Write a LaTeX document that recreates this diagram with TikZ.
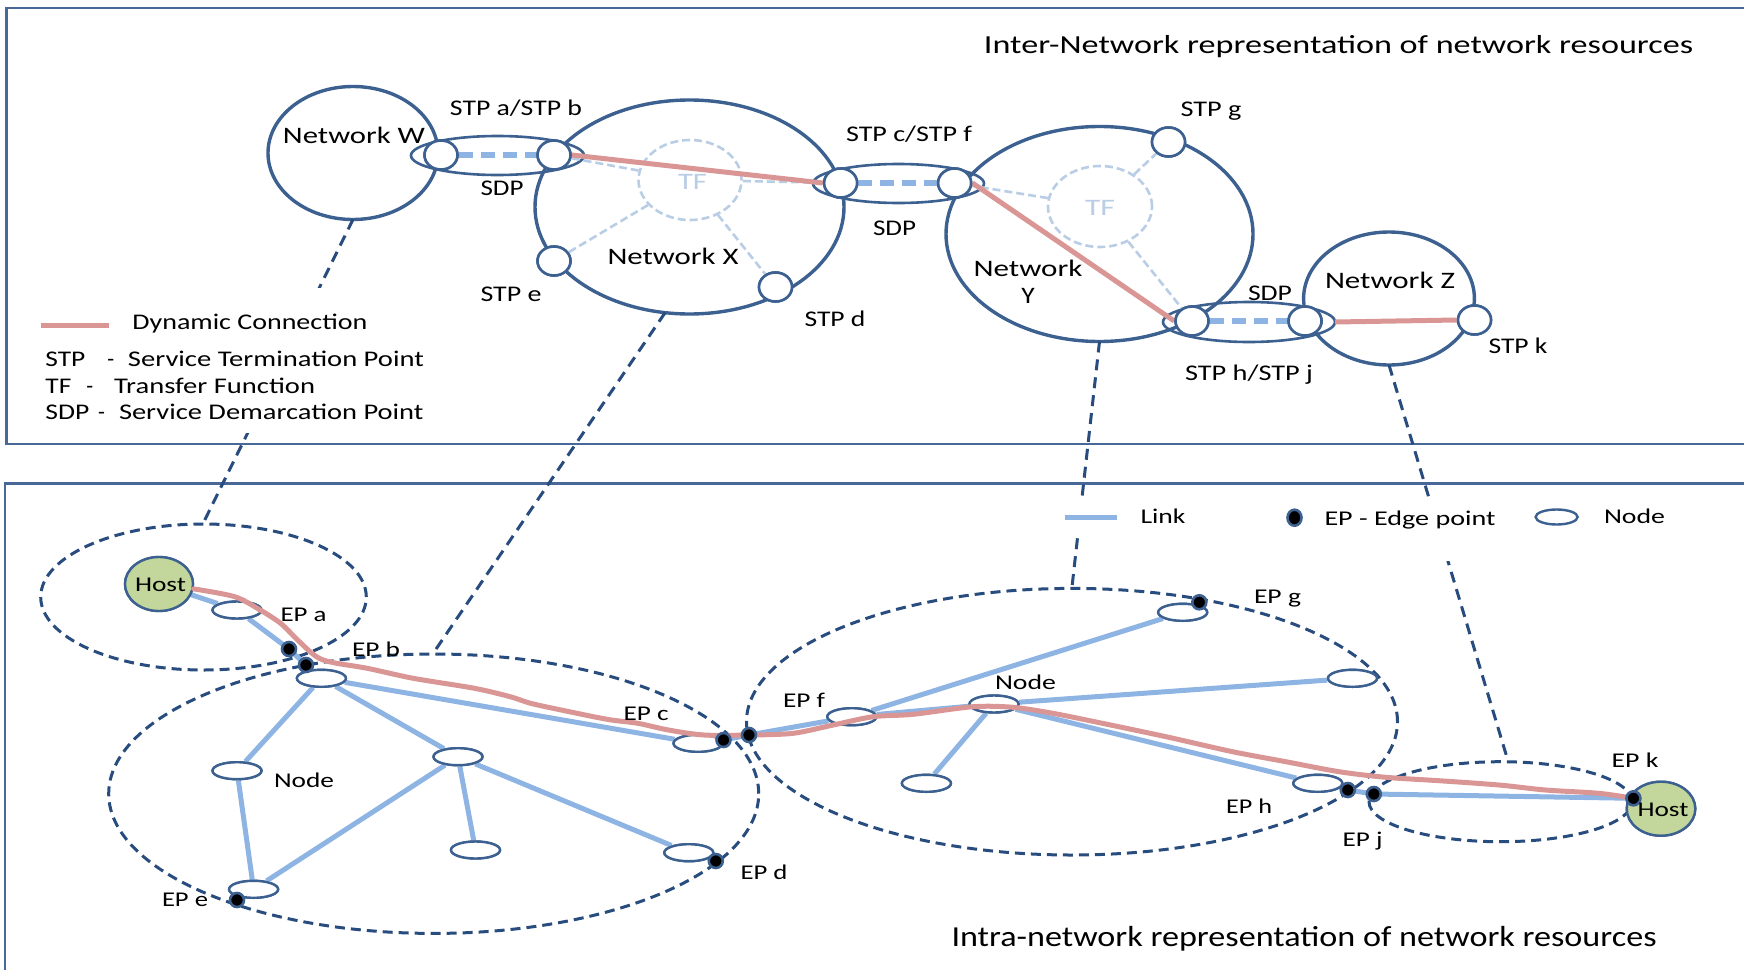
\documentclass[tikz,border=0pt]{standalone}
\usepackage{fontspec}
\setmainfont{Carlito}
\usetikzlibrary{shapes.geometric}
\definecolor{netblue}{RGB}{60,96,143}
\definecolor{boxblue}{RGB}{72,104,152}
\definecolor{conblue}{RGB}{40,76,125}
\definecolor{linkblue}{RGB}{142,180,227}
\definecolor{dynred}{RGB}{217,150,148}
\definecolor{tfblue}{RGB}{185,205,229}
\definecolor{hostgreen}{RGB}{195,214,155}
\newcommand{\fw}[2]{\resizebox{#1pt}{\height}{#2}}
\tikzset{
  sz/.style 2 args={minimum width=#1pt, minimum height=#2pt},
  boxline/.style={draw=boxblue, line width=1.4pt},
  net/.style={ellipse, draw=netblue, line width=1.7pt, inner sep=0pt, outer sep=0pt},
  sdpell/.style={ellipse, draw=netblue, line width=1.3pt, inner sep=0pt, outer sep=0pt},
  stp/.style={ellipse, draw=netblue, fill=white, line width=1.3pt, minimum width=16.5pt, minimum height=14.5pt, inner sep=0pt},
  tf/.style={ellipse, draw=tfblue, line width=1.3pt, dash pattern=on 4pt off 2pt, inner sep=0pt},
  tfline/.style={draw=tfblue, line width=1.3pt, dash pattern=on 4pt off 2pt},
  sdplink/.style={draw=linkblue, line width=2.8pt, dash pattern=on 7pt off 4pt},
  dyn/.style={draw=dynred, line width=2.5pt, line join=round, line cap=round},
  conn/.style={draw=conblue, line width=1.5pt, dash pattern=on 5.5pt off 3.5pt},
  dom/.style={ellipse, draw=conblue, line width=1.5pt, dash pattern=on 5pt off 3pt, inner sep=0pt},
  link/.style={draw=linkblue, line width=2.5pt},
  nd/.style={ellipse, draw=netblue, fill=white, line width=1.2pt, minimum width=24.5pt, minimum height=8.5pt, inner sep=0pt},
  ep/.style={ellipse, draw=netblue, fill=black, line width=1.3pt, minimum width=7pt, minimum height=7pt, inner sep=0pt},
  host/.style={ellipse, draw=netblue, fill=hostgreen, line width=1.2pt, minimum width=34pt, minimum height=27pt, inner sep=0pt},
  tl/.style={anchor=base, inner sep=0pt, font=\fontsize{11.2}{13}\selectfont},
  tlw/.style={anchor=base west, inner sep=0pt, font=\fontsize{11.2}{13}\selectfont},
  bl/.style={anchor=base, inner sep=0pt, font=\fontsize{10.5}{12}\selectfont},
  blank/.style={fill=white, inner sep=0pt}
}
\begin{document}
\begin{tikzpicture}[x=0.5pt,y=-0.5pt]
\useasboundingbox (0,0) rectangle (1744,969);
% frames
\draw[boxline] (1760,8) -- (6.5,8) -- (6.5,444) -- (1760,444);
\draw[boxline] (1760,483.5) -- (5,483.5) -- (5,980);

% ---------- top: networks ----------
\node[net, sz={85}{66.5}] (W) at (353,153) {};
\node[net, sz={154.5}{107}] (X) at (689.5,207) {};
\node[net, sz={153.5}{107.5}] (Y) at (1099.5,234) {};
\node[net, sz={85.4}{66.5}] (Z) at (1389,298.5) {};
\node[sdpell, sz={86.5}{19.5}] (SDPab) at (497.5,155.5) {};
\node[sdpell, sz={85.5}{19.5}] (SDPcf) at (898.5,183.5) {};
\node[sdpell, sz={86}{20}] (SDPhj) at (1249,322) {};
\node[tf, sz={51.5}{40}] (TFX) at (690,180) {};
\node[tf, sz={52}{40.5}] (TFY) at (1100,206.5) {};

% ---------- bottom: domains ----------
\node[dom, sz={162.8}{73}] (A) at (203.5,597) {};
\node[dom, sz={325}{139.7}] (BX) at (433.7,793.7) {};
\node[dom, sz={325.5}{133.3}] (BY) at (1072,721.7) {};
\node[dom, sz={131.5}{40}] (BZ) at (1500.5,801.7) {};

% ---------- connectors between levels ----------
\draw[conn] (W.south) -- (A.north);
\draw[conn] (X.257) -- (BX.north);
\draw[conn] (Y.south) -- (BY.north);
\draw[conn] (Z.south) -- (BZ.80);

% legend backgrounds
\node[blank, minimum width=197.5pt, minimum height=72.5pt] (legtop) at (232,360) {};
\node[blank, minimum width=65pt, minimum height=19pt] (leglink) at (1125,516) {};
\node[blank, minimum width=110pt, minimum height=31pt] (legep) at (1390,530) {};

% ---------- top: STPs ----------
\node[stp] (STPa) at (441,155) {};
\node[stp] (STPb) at (554,155) {};
\node[stp] (STPc) at (840.6,183) {};
\node[stp] (STPf) at (954.6,183) {};
\node[stp] (STPe) at (554,261) {};
\node[stp] (STPd) at (775.5,287) {};
\node[stp] (STPg) at (1168.5,142) {};
\node[stp] (STPh) at (1192,321) {};
\node[stp] (STPj) at (1305,321) {};
\node[stp] (STPk) at (1474.5,320) {};

\draw[tfline] (TFX) -- (STPb);
\draw[tfline] (TFX) -- (STPc);
\draw[tfline] (TFX) -- (STPe);
\draw[tfline] (TFX) -- (STPd);
\draw[tfline] (TFY) -- (STPf);
\draw[tfline] (TFY) -- (STPg);
\draw[tfline] (TFY) -- (STPh);
\draw[sdplink] (STPa) -- (STPb);
\draw[sdplink] (STPc) -- (STPf);
\draw[sdplink] (STPh) -- (STPj);
\draw[dyn, line cap=butt] (STPb.east) -- (STPc.west);
\draw[dyn, line cap=butt] (STPf.east) -- (STPh.west);
\draw[dyn, line cap=butt] (SDPhj.east) -- (STPk.west);
% redraw STP circles over lines
\foreach \p in {(441,155),(554,155),(840.6,183),(954.6,183),(554,261),(775.5,287),(1168.5,142),(1192,321),(1305,321),(1474.5,320)}
  \node[stp] at \p {};

% top labels
\node[tl, font=\fontsize{13}{15}\selectfont] (t1) at (1338.5,53.3) {\fw{354.5}{Inter-Network representation of network resources}};
\node[tl, font=\fontsize{11.8}{14}\selectfont] (lW) at (354,143.3) {\fw{71}{Network W}};
\node[tl] (lab) at (516,115) {\fw{66}{STP a/STP b}};
\node[tl] (lsdp1) at (502,195) {\fw{21.5}{SDP}};
\node[tl, text=tfblue, font=\fontsize{11.8}{14}\selectfont] (ltfx) at (692.5,189.3) {\fw{14.5}{TF}};
\node[tl, font=\fontsize{11.8}{14}\selectfont] (lX) at (673,264) {\fw{65.5}{Network X}};
\node[tl] (le) at (511,301) {\fw{30.5}{STP e}};
\node[tl] (ld) at (835,326.7) {\fw{30.5}{STP d}};
\node[tl] (lcf) at (909,141.7) {\fw{63}{STP c/STP f}};
\node[tl] (lsdp2) at (894.5,235) {\fw{21.5}{SDP}};
\node[tl, font=\fontsize{11.8}{14}\selectfont] (lY1) at (1028,276) {\fw{54.5}{Network}};
\node[tl, font=\fontsize{11.8}{14}\selectfont] (lY2) at (1028,303) {\fw{6.7}{Y}};
\node[tl, text=tfblue, font=\fontsize{11.8}{14}\selectfont] (ltfy) at (1100,215) {\fw{15}{TF}};
\node[tl] (lg) at (1211,116) {\fw{30.5}{STP g}};
\node[tl] (lsdp3) at (1270,300.7) {\fw{22}{SDP}};
\node[tl] (lhj) at (1249,380) {\fw{64}{STP h/STP j}};
\node[tl, font=\fontsize{11.8}{14}\selectfont] (lZ) at (1390,288.7) {\fw{65}{Network Z}};
\node[tl] (lk) at (1518,353) {\fw{29.5}{STP k}};

% top legend
\draw[draw=dynred, line width=2.5pt] (41,325) -- (109,325);
\node[tlw] (lg1) at (132,329.5) {\fw{117.5}{Dynamic Connection}};
\node[tlw] (lg2a) at (45,366.7) {\fw{20}{STP}};
\node[tlw] (lg2b) at (107,366.7) {-};
\node[tlw] (lg2c) at (127.5,366.7) {\fw{148}{Service Termination Point}};
\node[tlw] (lg3a) at (45,393) {\fw{13}{TF}};
\node[tlw] (lg3b) at (86,393) {-};
\node[tlw] (lg3c) at (113.7,393) {\fw{100.5}{Transfer Function}};
\node[tlw] (lg4a) at (45,419) {\fw{22}{SDP}};
\node[tlw] (lg4b) at (97.6,419) {-};
\node[tlw] (lg4c) at (118.6,419) {\fw{152.2}{Service Demarcation Point}};

% ---------- bottom: nodes ----------
\node[host] (hostL) at (159,584) {};
\node[host, sz={34.3}{27}] (hostR) at (1661,808.7) {};
\node[nd] (nA) at (237,610) {};
\node[nd] (nB) at (321.4,678.3) {};
\node[nd] (nML) at (237,770.7) {};
\node[nd] (nC) at (458,756.7) {};
\node[nd] (nBot) at (475.5,850) {};
\node[nd] (nE) at (253.6,889.3) {};
\node[nd] (nD) at (688.8,852.7) {};
\node[nd] (nCc) at (698,743.3) {};
\node[nd] (nF) at (851.8,716.7) {};
\node[nd] (nYc) at (994,704) {};
\node[nd] (nG) at (1182.7,612.3) {};
\node[nd] (nR) at (1352.5,678.3) {};
\node[nd] (nBL) at (926.4,783.3) {};
\node[nd] (nH) at (1317.8,783.3) {};
\coordinate (epAc) at (289,649);
\coordinate (epBc) at (306,665);
\coordinate (epCc) at (723.5,740);
\coordinate (epFc) at (749,735);
\coordinate (epHc) at (1347.8,790);
\coordinate (epJc) at (1373.8,794);
\coordinate (epKc) at (1633.4,798.3);

% links
\draw[link] (hostL) -- (nA);
\draw[link] (nA) -- (epAc);
\draw[link] (epAc) -- (epBc);
\draw[link] (nB) -- (nCc);
\draw[link] (nB) -- (nML);
\draw[link] (nB) -- (nC);
\draw[link] (nML) -- (nE);
\draw[link] (nC) -- (nE);
\draw[link] (nC) -- (nBot);
\draw[link] (nC) -- (nD);
\draw[link] (epCc) -- (epFc);
\draw[link] (epFc) -- (nF);
\draw[link] (nF) -- (nG);
\draw[link] (nF) -- (nYc);
\draw[link] (nYc) -- (nR);
\draw[link] (nYc) -- (nBL);
\draw[link] (nYc) -- (nH);
\draw[link] (epHc) -- (epJc);
\draw[link] (epJc) -- (epKc);
% nodes over links
\foreach \p in {(237,610),(321.4,678.3),(237,770.7),(458,756.7),(475.5,850),(253.6,889.3),(688.8,852.7),(698,743.3),(851.8,716.7),(994,704),(1182.7,612.3),(1352.5,678.3),(926.4,783.3),(1317.8,783.3)}
  \node[nd] at \p {};
\node[host] at (159,584) {};
\node[host, sz={34.3}{27}] at (1661,808.7) {};

% dynamic connection (intra)
\draw[dyn] plot[smooth, tension=0.5] coordinates {
 (hostL.-8) (234.7,596.7) (260.2,610) (280.6,623.3) (295.9,638.3) (311.2,652.7) (321.4,659.3)
 (336.7,663.3) (367.3,668.3) (413.3,678.3) (474.5,688.3) (510.2,696.7) (530.6,703.3) (561.2,710)
 (607.1,719.3) (637.8,723.3) (668.4,730) (704.1,735) (750,735) (793.2,733.3) (833.2,725)
 (873.1,716.7) (913,714.3) (973,706.7) (1013,707.3) (1052.9,713.3) (1099.5,722.7) (1166,736.7)
 (1232.6,751.7) (1285.9,761.7) (1339.1,771.7) (1385.8,777.3) (1439,780.7) (1498.9,785)
 (1545.5,790) (1598.8,793.3) (epKc)};

% edge points
\node[ep] (epA) at (epAc) {};
\node[ep] (epB) at (epBc) {};
\node[ep] (epC) at (epCc) {};
\node[ep] (epD) at (715.8,861) {};
\node[ep] (epE) at (237,900) {};
\node[ep] (epF) at (epFc) {};
\node[ep] (epG) at (1199.3,602.3) {};
\node[ep] (epH) at (epHc) {};
\node[ep] (epJ) at (epJc) {};
\node[ep] (epK) at (epKc) {};

% bottom labels
\node[bl] (hL) at (160.5,591.7) {\fw{25.5}{Host}};
\node[bl] (hR) at (1663,816.7) {\fw{25.5}{Host}};
\node[bl] (la) at (303.6,621.7) {\fw{23}{EP a}};
\node[bl] (lb) at (376,656.7) {\fw{24}{EP b}};
\node[bl] (lc) at (646,720.7) {\fw{22.5}{EP c}};
\node[bl] (lnx) at (304,787) {\fw{30}{Node}};
\node[bl] (lee) at (185,906) {\fw{23}{EP e}};
\node[bl] (led) at (764,879.3) {\fw{23.5}{EP d}};
\node[bl] (lef) at (804,707.3) {\fw{21}{EP f}};
\node[bl] (lny) at (1025.5,689.3) {\fw{30.5}{Node}};
\node[bl] (leg) at (1277.5,603.3) {\fw{23.5}{EP g}};
\node[bl] (leh) at (1249,813.3) {\fw{23}{EP h}};
\node[bl] (lej) at (1362.5,846.7) {\fw{20}{EP j}};
\node[bl] (lek) at (1635,767.3) {\fw{23.5}{EP k}};
\node[bl, font=\fontsize{14.5}{17}\selectfont] (t2) at (1304,946.7) {\fw{352.5}{Intra-network representation of network resources}};

% bottom legend
\draw[link] (1064.8,517.7) -- (1116.8,517.7);
\node[bl] (llink) at (1163,523) {\fw{22.5}{Link}};
\node[ep, sz={7}{8}] (lgep) at (1294.5,517.7) {};
\node[bl] (llep) at (1410,525) {\fw{85.5}{EP - Edge point}};
\node[nd, sz={21}{7.5}] (lgnd) at (1556.6,517) {};
\node[bl] (llnd) at (1634.5,523) {\fw{30.5}{Node}};
\end{tikzpicture}
\end{document}
